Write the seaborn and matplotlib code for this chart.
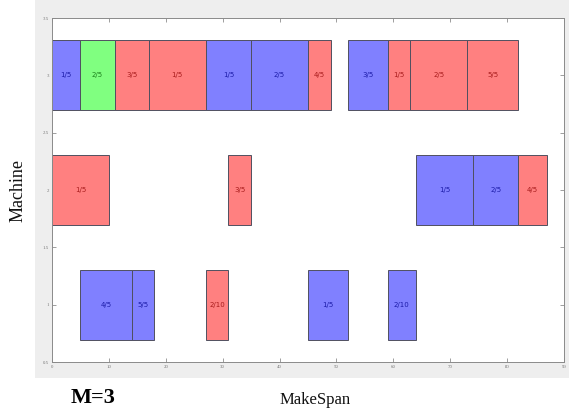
import matplotlib
matplotlib.use("Agg")
import matplotlib.pyplot as plt
import seaborn as sns
import pandas as pd
from matplotlib.patches import Rectangle

# Schedule of operations on each machine (start / finish times)
machine = [3, 3, 3, 3, 3, 3, 3, 3, 3, 3, 3,
           2, 2, 2, 2, 2,
           1, 1, 1, 1, 1]
start = [0, 5, 11, 17, 27, 35, 45, 52, 59, 63, 73,
         0, 31, 64, 74, 82,
         5, 14, 27, 45, 59]
finish = [5, 11, 17, 27, 35, 45, 49, 59, 63, 73, 82,
          10, 35, 74, 82, 87,
          14, 18, 31, 52, 64]
job_type = ["B", "G", "R", "R", "B", "B", "R", "B", "R", "R", "R",
            "R", "R", "B", "B", "R",
            "B", "B", "R", "B", "B"]
op_label = ["1/5", "2/5", "3/5", "1/5", "1/5", "2/5", "4/5", "3/5", "1/5", "2/5", "5/5",
            "1/5", "3/5", "1/5", "2/5", "4/5",
            "4/5", "5/5", "2/10", "1/5", "2/10"]
x_ticks = [0, 10, 20, 30, 40, 50, 60, 70, 80, 90]
y_ticks = [0.5, 1, 1.5, 2, 2.5, 3, 3.5]

tasks = pd.DataFrame({"machine": machine, "start": start, "finish": finish,
                      "type": job_type, "label": op_label})
tasks["duration"] = tasks["finish"] - tasks["start"]

fill = {"B": "#8080FF", "G": "#80FF80", "R": "#FF8080"}
ink = {"B": "#1C1CA8", "G": "#1C801C", "R": "#A81C1C"}

sns.set_style("white")
plt.rcParams["font.family"] = ["Liberation Serif", "DejaVu Serif"]

fig = plt.figure(figsize=(5.69, 4.15), dpi=100)
fig.patch.set_facecolor("white")
# light grey figure panel behind the axes
fig.patches.append(Rectangle((35 / 569, 1 - 378 / 415), 1, 378 / 415,
                             transform=fig.transFigure, facecolor="#EEEEEE",
                             edgecolor="none", zorder=-5))

ax = fig.add_axes([52 / 569, 1 - 362 / 415, 512 / 569, 344 / 415])
ax.set_facecolor("white")

ax.barh(tasks["machine"], tasks["duration"], left=tasks["start"], height=0.61,
        color=[fill[t] for t in tasks["type"]], edgecolor="#505060",
        linewidth=0.7, zorder=2)

for _, r in tasks.iterrows():
    ax.text(r["start"] + r["duration"] / 2, r["machine"], r["label"],
            ha="center", va="center", fontsize=5, color=ink[r["type"]],
            family="DejaVu Sans", zorder=3)

ax.set_xlim(0, 90)
ax.set_ylim(0.5, 3.5)
ax.set_xticks(x_ticks)
ax.set_yticks(y_ticks)
ax.set_xticklabels([str(v) for v in x_ticks])
ax.set_yticklabels([f"{v:g}" for v in y_ticks])
ax.tick_params(axis="both", which="both", direction="in", length=3, width=0.5,
               labelsize=3.5, colors="#777777", top=True, right=True,
               bottom=True, left=True, pad=2)
for s in ax.spines.values():
    s.set_color("#8A8A8A")
    s.set_linewidth(0.7)
    s.set_visible(True)

fig.text(18 / 569, 1 - 190 / 415, "Machine", rotation=90, ha="center",
         va="center", fontsize=13, color="#111111")
fig.text(315 / 569, 1 - 400 / 415, "MakeSpan", ha="center", va="center",
         fontsize=12, color="#111111")
fig.text(93 / 569, 1 - 398 / 415, "M=3", ha="center", va="center",
         fontsize=16, fontweight="bold", color="#000000")

fig.savefig("out.png", dpi=100)
